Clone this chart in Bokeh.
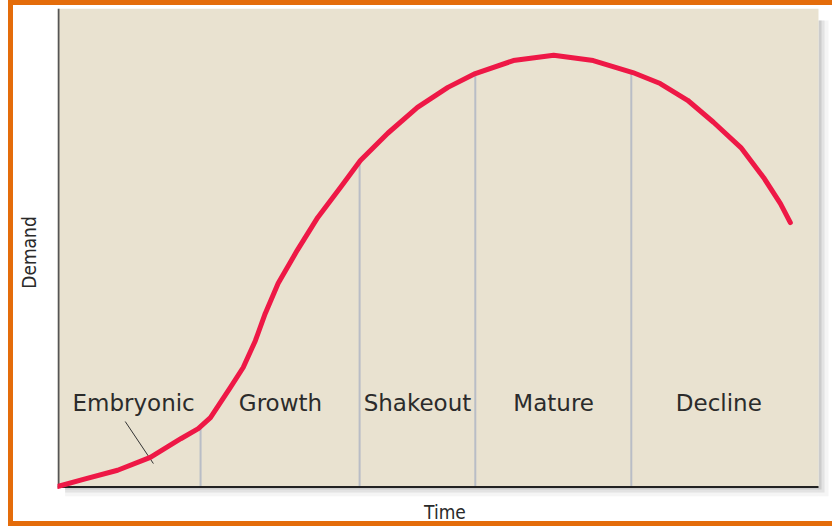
import numpy as np
from bokeh.plotting import figure
from bokeh.models import Range1d, FixedTicker, ColumnDataSource
from bokeh.core.properties import value
from bokeh.embed import file_html
from bokeh.resources import INLINE

# ---- data (arbitrary 0-100 units) ----
time = [0, 3.4, 7.9, 12.2, 16.2, 18.5, 20.1, 22.7, 24.4, 26.0, 27.3, 29.0, 31.5,
        34.2, 37.2, 39.8, 43.4, 47.3, 51.3, 54.9, 59.9, 65.2, 70.4, 75.6, 79.2,
        82.8, 86.2, 89.8, 92.8, 95.0, 96.3]
demand = [0, 1.5, 3.4, 6.1, 10.0, 12.1, 14.4, 20.7, 24.9, 30.5, 36.2, 42.5, 49.4,
          56.3, 62.6, 68.2, 73.9, 79.3, 83.5, 86.4, 89.1, 90.2, 89.1, 86.6, 84.3,
          80.8, 76.2, 70.9, 64.6, 59.2, 55.2]
stage_names = ["Embryonic", "Growth", "Shakeout", "Mature", "Decline"]
stage_label_x = [10.0, 29.3, 47.3, 65.2, 86.9]
stage_label_y = [17.5, 17.5, 17.5, 17.5, 17.5]
stage_bounds = [18.8, 39.7, 54.9, 75.4]
leader_x = [8.9, 12.6]
leader_y = [13.6, 4.8]

ORANGE = "#e46c0a"
BEIGE = "#e9e2d0"

# frame spans the panel plus its drop shadow
X0, X1 = 0, 101.84
Y0, Y1 = -2.09, 100
PX_X = 7.61   # px per x unit
PX_Y = 4.78   # px per y unit

# the host is border-box; the canvas keeps width x height, so its last
# 5px (right) and 10px (bottom) sit under the orange frame
p = figure(width=824, height=526, output_backend="svg", toolbar_location=None,
           x_range=Range1d(X0, X1), y_range=Range1d(Y0, Y1),
           min_border_left=44, min_border_right=5, min_border_top=3,
           min_border_bottom=35)
bd = f"5px solid {ORANGE}"
p.styles = {"margin-left": "8px", "border-left": bd, "border-top": bd,
            "border-bottom": bd}
p.background_fill_color = "white"
p.border_fill_color = "white"
p.outline_line_color = None
p.xgrid.visible = False
p.ygrid.visible = False

for ax, label, standoff in ((p.yaxis[0], "Demand", 18), (p.xaxis[0], "Time", 4)):
    ax.ticker = FixedTicker(ticks=[])
    ax.major_tick_out = 0
    ax.major_tick_in = 0
    ax.minor_tick_out = 0
    ax.minor_tick_in = 0
    ax.major_label_standoff = 0
    ax.axis_line_color = None
    ax.axis_label = label
    ax.axis_label_standoff = standoff
    ax.axis_label_text_font = "DejaVu Sans Condensed"
    ax.axis_label_text_font_size = "19px"
    ax.axis_label_text_font_style = "normal"
    ax.axis_label_text_color = "#2a2a2a"

# drop shadow (right and below the panel)
for w, a in ((3, 0.22), (6, 0.14), (10, 0.08)):
    p.quad(left=[100], right=[100 + w / PX_X], bottom=[-w / PX_Y], top=[97.5],
           fill_color="#7a7a7a", fill_alpha=a, line_color=None)
    p.quad(left=[1.0], right=[100], bottom=[-w / PX_Y], top=[0],
           fill_color="#7a7a7a", fill_alpha=a, line_color=None)

# chart panel
p.quad(left=[0], right=[100], bottom=[0], top=[100], fill_color=BEIGE,
       line_color=None)

# stage dividers up to the curve
tops = np.interp(stage_bounds, time, demand)
p.segment(x0=stage_bounds, y0=[0] * len(stage_bounds), x1=stage_bounds, y1=tops,
          line_color="#b9bdc6", line_width=2)

# axis lines of the panel
p.segment(x0=[0.13], y0=[0], x1=[0.13], y1=[100], line_color="#555555", line_width=2)
p.segment(x0=[0], y0=[-0.1], x1=[100], y1=[-0.1], line_color="#222222", line_width=2)

# leader line for Embryonic
p.line(leader_x, leader_y, line_color="#333333", line_width=1)

# demand curve
p.line(time, demand, line_color="#ee1846", line_width=5, line_join="round",
       line_cap="round")

# stage labels
src = ColumnDataSource(dict(x=stage_label_x, y=stage_label_y, t=stage_names))
p.text(x="x", y="y", text="t", source=src, text_align="center",
       text_baseline="alphabetic", text_font=value("DejaVu Sans"),
       text_font_size="23px", text_color="#2b2b2b")

open("out.html", "w").write(file_html(p, INLINE))
